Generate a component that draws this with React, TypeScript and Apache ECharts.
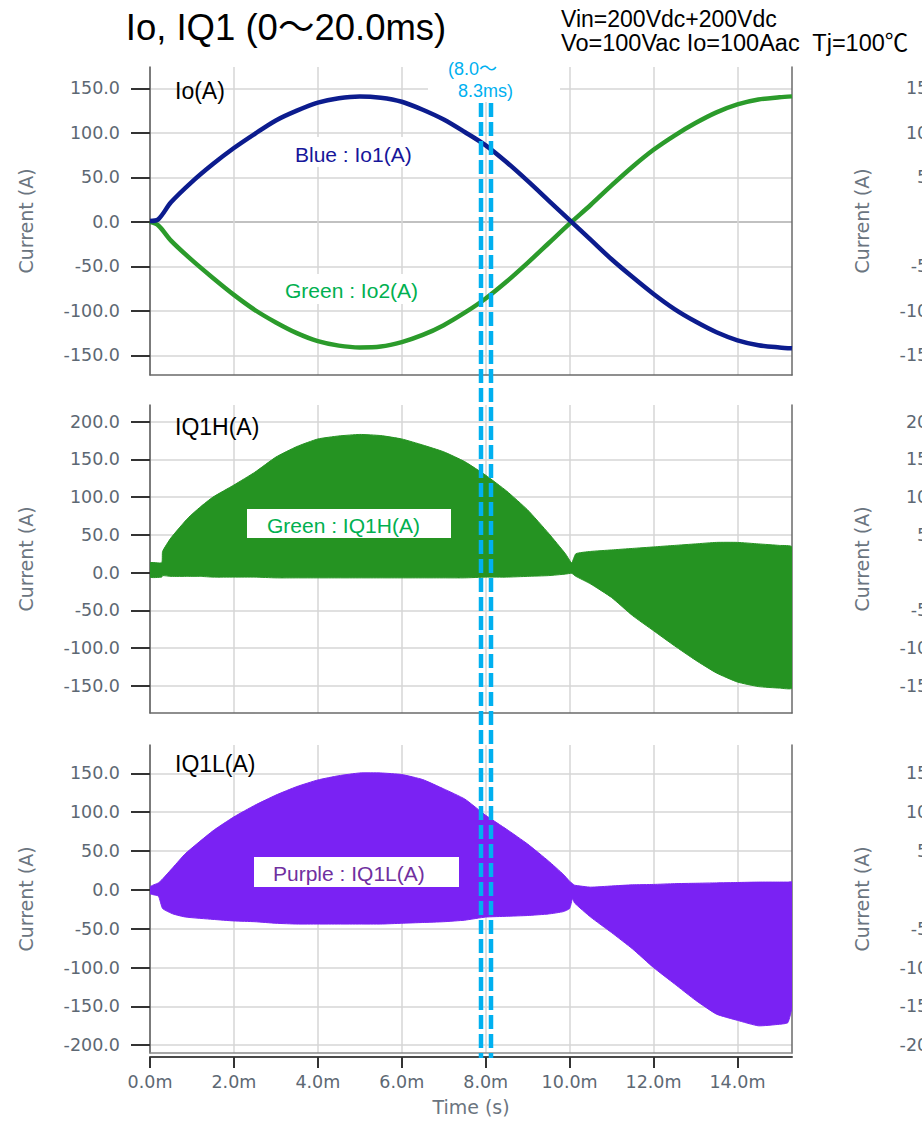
import React, { useEffect, useRef } from 'react';
import * as echarts from 'echarts';

// ---------- data (time in ms, current in A) ----------
const T_IO = [0, 0.2, 0.5, 1, 1.5, 2, 2.5, 3, 3.5, 4, 4.5, 5, 5.5, 6, 6.5, 7, 7.5, 8, 8.5, 9, 9.5, 10, 10.5, 11, 11.5, 12, 12.5, 13, 13.5, 14, 14.5, 15, 15.3];
const IO1 = [1, 3, 22, 45, 65, 83, 99, 114, 125, 134, 139, 141, 139.5, 135, 126, 115, 101, 86, 67, 46, 24, 2, -20, -42, -62, -81, -98, -112, -124, -133, -138.5, -141, -142];
const IO2 = [0, -4, -21, -43, -63, -82, -99, -113, -125, -134, -139, -141, -140, -135, -127, -116, -102, -86, -67, -46, -24, -2, 19, 41, 62, 81, 97, 111, 123, 132, 137.5, 140, 141];

const T_H = [0, 0.28, 0.3, 0.5, 0.9, 1.2, 1.5, 2, 2.5, 3, 3.5, 4, 4.5, 5, 5.5, 6, 6.5, 7, 7.5, 8, 8.5, 9, 9.5, 9.9, 10.05, 10.15, 10.5, 11, 11.5, 12, 12.5, 13, 13.5, 14, 14.5, 15, 15.3];
const IQ1H_UPPER = [13, 13, 28, 46, 72, 87, 100, 116, 133, 153, 167, 177, 181, 183, 181.5, 177, 169, 160, 147, 129, 108, 83, 52, 25, 13, 25, 28, 30, 32, 34, 36, 38, 40, 40, 38, 36, 34];
const IQ1H_LOWER = [-6, -6, -4, -5, -5, -5, -6, -6, -6, -7, -7, -7, -7, -7, -7, -7, -7, -7, -7, -6, -6, -5, -4, -2, -1, -5, -15, -33, -57, -77, -97, -116, -133, -145, -151, -153, -153];

const T_L = [0, 0.2, 0.3, 0.55, 0.85, 1.5, 2, 2.5, 3, 3.5, 4, 4.5, 5, 5.5, 6, 6.5, 7, 7.5, 8, 8.5, 9, 9.5, 9.85, 10, 10.07, 10.12, 10.5, 11, 11.5, 12, 12.5, 13, 13.5, 14, 14.5, 15, 15.2, 15.3];
const IQ1L_UPPER = [4, 9, 14, 29, 47, 76, 94, 109, 122, 133, 141.5, 147, 150.5, 150.5, 148.5, 142, 130, 117, 96, 78, 59, 37, 20, 11, 8, 6, 3.5, 5, 6.5, 7, 8, 8.5, 9, 9.5, 10, 10, 10, 10];
const IQ1L_LOWER = [-5, -8, -24, -31, -35, -38, -40, -41, -43, -44, -44, -44, -44, -44, -43, -42, -41, -39, -35, -34, -33, -31, -28, -24, -11, -17, -35, -55, -76, -100, -121, -142, -160, -168, -175, -173, -171, -150];

const X_TICKS = [0, 2, 4, 6, 8, 10, 12, 14];
const X_RANGE = [0, 15.3];
const Y_TICKS = [
  [-150, -100, -50, 0, 50, 100, 150],
  [-150, -100, -50, 0, 50, 100, 150, 200],
  [-200, -150, -100, -50, 0, 50, 100, 150],
];
const Y_RANGES = [[-172, 174], [-186, 222], [-210, 186.5]];

const TITLE = 'Io, IQ1 (0～20.0ms)';
const COND1 = 'Vin=200Vdc+200Vdc';
const COND2 = 'Vo=100Vac Io=100Aac  Tj=100℃';
const PANEL_LABELS = ['Io(A)', 'IQ1H(A)', 'IQ1L(A)'];

// ---------- styling ----------
const AX_FONT = 'DejaVu Sans';
const TXT_FONT = '"Liberation Sans", Arial, "Noto Sans CJK JP", sans-serif';
const LABEL_COLOR = '#5d6873';
const GRID_COLOR = '#d6d6d6';
const GRID_TOPS = [67, 405, 745];
const GRID_H = 308;
const GRID_W = 642;
const LEFTS = [150, 986];

function bandSeries(xi: number, yi: number, T: number[], U: number[], L: number[], color: string) {
  return {
    type: 'custom',
    xAxisIndex: xi,
    yAxisIndex: yi,
    silent: true,
    clip: true,
    z: 3,
    data: T.map((t, i) => [t, U[i], L[i]]),
    encode: { x: 0, y: [1, 2] },
    renderItem: (params: any, api: any) => {
      if (params.dataIndex !== 0) return null;
      const pts: number[][] = [];
      for (let i = 0; i < T.length; i++) pts.push(api.coord([T[i], U[i]]));
      for (let i = T.length - 1; i >= 0; i--) pts.push(api.coord([T[i], L[i]]));
      return {
        type: 'polygon',
        shape: { points: pts, smooth: 0.15 },
        style: { fill: color, stroke: color, lineWidth: 1 },
      };
    },
  };
}

export default function App() {
  const ref = useRef<HTMLDivElement>(null);

  useEffect(() => {
    if (!ref.current) return;
    const chart = echarts.init(ref.current, undefined, { renderer: 'svg' });

    const grids: any[] = [];
    const xAxes: any[] = [];
    const yAxes: any[] = [];
    const series: any[] = [];

    const axisIdx: { x: number; y: number }[] = [];

    LEFTS.forEach((left, side) => {
      GRID_TOPS.forEach((top, p) => {
        const g = grids.length;
        grids.push({ left, top, width: GRID_W, height: GRID_H, containLabel: false });
        const [ymin, ymax] = Y_RANGES[p];
        const ticks = Y_TICKS[p];
        const splitColors = ticks.map((v) => (v === 0 && p === 0 ? '#adadad' : GRID_COLOR));
        const yi = yAxes.length;
        yAxes.push({
          gridIndex: g,
          type: 'value',
          position: 'left',
          min: ymin,
          max: ymax,
          splitNumber: 8,
          axisLine: { show: true, onZero: false, lineStyle: { color: '#5a5a5a', width: 1.5 } },
          axisTick: { show: true, length: 19, inside: false, customValues: ticks, lineStyle: { color: '#333', width: 2 } },
          axisLabel: {
            customValues: ticks,
            formatter: (v: number) => v.toFixed(1),
            margin: 30,
            color: LABEL_COLOR,
            fontSize: 17.5,
            fontFamily: AX_FONT,
          },
          splitLine: { show: true, lineStyle: { color: splitColors, width: 1.5 } },
          name: 'Current (A)',
          nameLocation: 'middle',
          nameGap: 115,
          nameTextStyle: { color: '#6b7580', fontSize: 19, fontFamily: AX_FONT },
        });
        // right border
        yAxes.push({
          gridIndex: g,
          type: 'value',
          position: 'right',
          min: ymin,
          max: ymax,
          axisLine: { show: true, onZero: false, lineStyle: { color: '#6a6a6a', width: 1.5 } },
          axisTick: { show: false },
          axisLabel: { show: false },
          splitLine: { show: false },
        });
        const xi = xAxes.length;
        // plot bottom border + vertical grid lines
        xAxes.push({
          gridIndex: g,
          type: 'value',
          position: 'bottom',
          min: X_RANGE[0],
          max: X_RANGE[1],
          interval: 2,
          axisLine: { show: true, onZero: false, lineStyle: { color: p === 2 ? '#8a8a8a' : '#6a6a6a', width: 1.5 } },
          axisTick: { show: false, customValues: X_TICKS },
          axisLabel: { show: false },
          splitLine: { show: true, lineStyle: { color: GRID_COLOR, width: 1.5 } },
        });
        if (p === 2 && side === 0) {
          xAxes.push({
            gridIndex: g,
            type: 'value',
            position: 'bottom',
            offset: 4,
            min: X_RANGE[0],
            max: X_RANGE[1],
            interval: 2,
            axisLine: { show: true, onZero: false, lineStyle: { color: '#4a4a4a', width: 2 } },
            axisTick: { show: true, length: 11, customValues: X_TICKS, lineStyle: { color: '#333', width: 2 } },
            axisLabel: {
              customValues: X_TICKS,
              formatter: (v: number) => v.toFixed(1) + 'm',
              margin: 16,
              color: LABEL_COLOR,
              fontSize: 17.5,
              fontFamily: AX_FONT,
            },
            splitLine: { show: false },
            name: 'Time (s)',
            nameLocation: 'middle',
            nameGap: 40,
            nameTextStyle: { color: '#6b7580', fontSize: 19, fontFamily: AX_FONT },
          });
        }
        axisIdx.push({ x: xi, y: yi });
      });
    });

    // left chart series (grids 0..2)
    series.push({
      type: 'line',
      xAxisIndex: axisIdx[0].x,
      yAxisIndex: axisIdx[0].y,
      data: T_IO.map((t, i) => [t, IO1[i]]),
      smooth: 0.3,
      symbol: 'none',
      lineStyle: { color: '#0c1c8e', width: 4.5 },
      z: 4,
    });
    series.push({
      type: 'line',
      xAxisIndex: axisIdx[0].x,
      yAxisIndex: axisIdx[0].y,
      data: T_IO.map((t, i) => [t, IO2[i]]),
      smooth: 0.3,
      symbol: 'none',
      lineStyle: { color: '#2b9b2b', width: 4.5 },
      z: 3,
    });
    series.push(bandSeries(axisIdx[1].x, axisIdx[1].y, T_H, IQ1H_UPPER, IQ1H_LOWER, '#259322'));
    series.push(bandSeries(axisIdx[2].x, axisIdx[2].y, T_L, IQ1L_UPPER, IQ1L_LOWER, '#7a22f3'));

    const txt = (text: string, x: number, y: number, size: number, fill: string, align = 'left', z = 60) => ({
      type: 'text',
      x,
      y,
      z,
      silent: true,
      style: { text, fontSize: size, fontFamily: TXT_FONT, fill, align, verticalAlign: 'middle' },
    });
    const box = (x: number, y: number, w: number, h: number) => ({
      type: 'rect',
      z: 50,
      silent: true,
      shape: { x, y, width: w, height: h },
      style: { fill: '#ffffff' },
    });
    const dash = (x: number) => ({
      type: 'line',
      z: 100,
      silent: true,
      shape: { x1: x, y1: 103, x2: x, y2: 1058 },
      style: { stroke: '#00b0f0', lineWidth: 4.5, lineDash: [14, 5] },
    });

    const graphic = [
      txt(TITLE, 286, 27, 36.5, '#000', 'center'),
      txt(COND1, 561, 19, 23, '#000'),
      txt(COND2, 561, 43, 23.5, '#000'),
      txt(PANEL_LABELS[0], 175, 91, 23, '#000'),
      txt(PANEL_LABELS[1], 175, 427, 23, '#000'),
      txt(PANEL_LABELS[2], 175, 764, 23, '#000'),
      box(287, 137, 134, 30),
      txt('Blue : Io1(A)', 295, 154, 21, '#16169a'),
      box(278, 274, 148, 30),
      txt('Green : Io2(A)', 285, 290, 21, '#00b050'),
      box(247, 509, 204, 29),
      txt('Green : IQ1H(A)', 267, 525, 21, '#00b050'),
      box(254, 857, 205, 30),
      txt('Purple : IQ1L(A)', 273, 873, 21, '#7030a0'),
      box(428, 58, 132, 44),
      txt('(8.0～', 448, 69, 18, '#00b0f0'),
      txt('8.3ms)', 458, 91, 18, '#00b0f0'),
      dash(481),
      dash(491),
    ];

    chart.setOption({
      animation: false,
      backgroundColor: '#ffffff',
      grid: grids,
      xAxis: xAxes,
      yAxis: yAxes,
      series,
      graphic,
    });

    return () => chart.dispose();
  }, []);

  return (
    <div
      ref={ref}
      style={{ position: 'fixed', left: 0, top: 0, width: 922, height: 1122, background: '#fff' }}
    />
  );
}
